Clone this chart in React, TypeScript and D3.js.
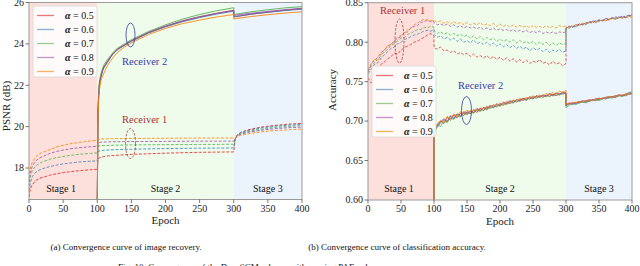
import React from "react";
import * as d3 from "d3";

const ALPHAS = ["0.5", "0.6", "0.7", "0.8", "0.9"];
const COLORS = ["#e41a1c", "#377eb8", "#4daf4a", "#984ea3", "#ff7f00"];
const STAGES = ["Stage 1", "Stage 2", "Stage 3"];
const STAGE_BOUNDS = [0, 100, 300, 400];
const STAGE_FILLS = ["#fde0dc", "#effcec", "#ebf3fd"];
const X_TICKS = [0, 50, 100, 150, 200, 250, 300, 350, 400];
const PSNR_TICKS = [18, 20, 22, 24, 26];
const ACC_TICKS = [0.6, 0.65, 0.7, 0.75, 0.8, 0.85];

// ---------- (a) PSNR ----------
const PSNR_R1_S1_EPOCHS = [0, 2, 5, 10, 15, 20, 30, 40, 50, 60, 70, 80, 90, 100];
const PSNR_R1_S1 = [
  [16.6, 17.0, 17.2, 17.4, 17.5, 17.55, 17.65, 17.72, 17.78, 17.82, 17.86, 17.89, 17.92, 17.94],
  [16.9, 17.3, 17.6, 17.8, 17.9, 17.97, 18.07, 18.14, 18.2, 18.24, 18.28, 18.31, 18.33, 18.35],
  [17.1, 17.6, 17.9, 18.1, 18.22, 18.3, 18.42, 18.5, 18.56, 18.61, 18.65, 18.68, 18.71, 18.73],
  [17.3, 17.8, 18.1, 18.35, 18.48, 18.56, 18.7, 18.8, 18.87, 18.93, 18.97, 19.0, 19.03, 19.05],
  [17.5, 18.0, 18.3, 18.55, 18.68, 18.76, 18.88, 19.02, 19.1, 19.17, 19.22, 19.27, 19.31, 19.34],
];
const PSNR_R1_S2_EPOCHS = [101, 105, 110, 120, 150, 200, 250, 300];
const PSNR_R1_S2 = [
  [18.45, 18.52, 18.56, 18.6, 18.66, 18.72, 18.76, 18.78],
  [18.8, 18.84, 18.86, 18.88, 18.91, 18.94, 18.96, 18.97],
  [19.05, 19.08, 19.09, 19.1, 19.12, 19.13, 19.14, 19.15],
  [19.22, 19.25, 19.26, 19.27, 19.28, 19.29, 19.3, 19.3],
  [19.38, 19.4, 19.41, 19.42, 19.43, 19.44, 19.45, 19.45],
];
const PSNR_R1_S3_EPOCHS = [302, 305, 310, 320, 340, 360, 380, 400];
const PSNR_R1_S3 = [
  [19.4, 19.6, 19.72, 19.84, 19.98, 20.06, 20.12, 20.16],
  [19.38, 19.58, 19.7, 19.8, 19.94, 20.02, 20.07, 20.11],
  [19.4, 19.56, 19.66, 19.76, 19.88, 19.96, 20.01, 20.05],
  [19.42, 19.55, 19.63, 19.72, 19.83, 19.9, 19.95, 19.98],
  [19.45, 19.53, 19.58, 19.65, 19.75, 19.81, 19.85, 19.88],
];
const PSNR_R2_OFFSCALE = 16.0;
const PSNR_R2_S2_EPOCHS = [101, 102, 103, 105, 108, 110, 115, 120, 125, 130, 140, 150, 175, 200, 225, 250, 275, 300];
const PSNR_R2_S2 = [
  [20.6, 21.5, 22.0, 22.4, 22.75, 22.9, 23.15, 23.4, 23.6, 23.75, 23.95, 24.15, 24.55, 24.85, 25.1, 25.3, 25.47, 25.62],
  [20.5, 21.4, 21.95, 22.35, 22.7, 22.85, 23.1, 23.37, 23.57, 23.72, 23.93, 24.12, 24.52, 24.82, 25.07, 25.27, 25.44, 25.58],
  [20.8, 21.7, 22.15, 22.5, 22.85, 23.0, 23.25, 23.45, 23.65, 23.8, 24.0, 24.2, 24.6, 24.92, 25.2, 25.42, 25.6, 25.75],
  [20.6, 21.5, 22.0, 22.4, 22.75, 22.9, 23.15, 23.4, 23.6, 23.75, 23.95, 24.15, 24.55, 24.86, 25.12, 25.32, 25.48, 25.62],
  [20.3, 21.2, 21.7, 22.2, 22.45, 22.6, 22.95, 23.2, 23.42, 23.6, 23.85, 24.05, 24.45, 24.75, 24.98, 25.15, 25.3, 25.42],
];
const PSNR_R2_S3_EPOCHS = [300, 310, 325, 350, 375, 400];
const PSNR_R2_S3 = [
  [25.3, 25.35, 25.43, 25.53, 25.63, 25.7],
  [25.32, 25.36, 25.44, 25.53, 25.61, 25.68],
  [25.42, 25.47, 25.55, 25.65, 25.74, 25.8],
  [25.38, 25.42, 25.48, 25.57, 25.65, 25.72],
  [25.2, 25.25, 25.32, 25.41, 25.49, 25.55],
];

// ---------- (b) Accuracy ----------
const ACC_S1_EPOCHS = d3.range(0, 101, 5);
const ACC_S2_EPOCHS = d3.range(100, 301, 5);
const ACC_S3_EPOCHS = d3.range(300, 401, 5);
const ACC_R1_S1 = [
  [0.755, 0.748, 0.765, 0.768, 0.772, 0.775, 0.779, 0.782, 0.786, 0.785, 0.79, 0.793, 0.795, 0.797, 0.8, 0.801, 0.804, 0.806, 0.809, 0.811, 0.808],
  [0.76, 0.766, 0.772, 0.774, 0.78, 0.784, 0.788, 0.792, 0.794, 0.798, 0.8, 0.803, 0.805, 0.807, 0.809, 0.81, 0.812, 0.814, 0.815, 0.814, 0.816],
  [0.762, 0.77, 0.774, 0.779, 0.783, 0.788, 0.791, 0.796, 0.798, 0.802, 0.805, 0.806, 0.81, 0.811, 0.814, 0.816, 0.816, 0.819, 0.818, 0.82, 0.819],
  [0.763, 0.772, 0.777, 0.781, 0.787, 0.79, 0.795, 0.797, 0.802, 0.805, 0.807, 0.812, 0.813, 0.818, 0.82, 0.821, 0.825, 0.826, 0.828, 0.826, 0.826],
  [0.765, 0.773, 0.779, 0.776, 0.786, 0.79, 0.796, 0.797, 0.801, 0.806, 0.809, 0.812, 0.816, 0.818, 0.822, 0.824, 0.827, 0.829, 0.828, 0.827, 0.828],
];
const ACC_R1_S2 = [
  [0.793, 0.791, 0.794, 0.789, 0.79, 0.787, 0.789, 0.785, 0.787, 0.784, 0.786, 0.782, 0.785, 0.781, 0.783, 0.78, 0.783, 0.779, 0.782, 0.778, 0.781, 0.777, 0.78, 0.776, 0.779, 0.775, 0.778, 0.774, 0.777, 0.773, 0.776, 0.774, 0.778, 0.773, 0.775, 0.771, 0.776, 0.772, 0.774, 0.77, 0.773],
  [0.81, 0.806, 0.808, 0.804, 0.806, 0.803, 0.805, 0.801, 0.804, 0.8, 0.802, 0.799, 0.803, 0.798, 0.8, 0.797, 0.8, 0.796, 0.799, 0.795, 0.798, 0.794, 0.797, 0.793, 0.796, 0.792, 0.795, 0.791, 0.794, 0.789, 0.793, 0.79, 0.792, 0.788, 0.791, 0.787, 0.79, 0.788, 0.791, 0.787, 0.789],
  [0.815, 0.811, 0.813, 0.81, 0.812, 0.809, 0.811, 0.808, 0.81, 0.807, 0.809, 0.805, 0.808, 0.804, 0.807, 0.803, 0.806, 0.803, 0.805, 0.801, 0.804, 0.801, 0.803, 0.8, 0.803, 0.799, 0.802, 0.799, 0.801, 0.798, 0.801, 0.797, 0.8, 0.797, 0.8, 0.796, 0.799, 0.796, 0.799, 0.797, 0.798],
  [0.825, 0.822, 0.823, 0.821, 0.823, 0.82, 0.822, 0.819, 0.821, 0.818, 0.82, 0.818, 0.819, 0.817, 0.819, 0.816, 0.818, 0.816, 0.818, 0.815, 0.817, 0.815, 0.816, 0.814, 0.816, 0.813, 0.815, 0.813, 0.815, 0.812, 0.814, 0.812, 0.814, 0.811, 0.813, 0.811, 0.813, 0.811, 0.813, 0.812, 0.813],
  [0.828, 0.825, 0.827, 0.824, 0.826, 0.823, 0.826, 0.823, 0.825, 0.822, 0.825, 0.822, 0.824, 0.822, 0.825, 0.821, 0.823, 0.821, 0.824, 0.82, 0.823, 0.82, 0.822, 0.819, 0.822, 0.819, 0.821, 0.819, 0.821, 0.818, 0.821, 0.819, 0.82, 0.818, 0.821, 0.818, 0.82, 0.818, 0.821, 0.819, 0.821],
];
const ACC_R1_S3 = [
  [0.818, 0.819, 0.821, 0.82, 0.823, 0.822, 0.825, 0.824, 0.826, 0.825, 0.828, 0.827, 0.829, 0.828, 0.83, 0.831, 0.83, 0.832, 0.831, 0.833, 0.834],
  [0.817, 0.82, 0.819, 0.822, 0.821, 0.824, 0.823, 0.825, 0.827, 0.826, 0.828, 0.827, 0.83, 0.829, 0.831, 0.83, 0.832, 0.831, 0.833, 0.834, 0.835],
  [0.816, 0.818, 0.82, 0.819, 0.822, 0.823, 0.822, 0.825, 0.824, 0.827, 0.826, 0.828, 0.827, 0.829, 0.83, 0.829, 0.831, 0.832, 0.831, 0.833, 0.833],
  [0.818, 0.82, 0.819, 0.821, 0.823, 0.822, 0.824, 0.826, 0.825, 0.827, 0.828, 0.827, 0.83, 0.829, 0.831, 0.832, 0.831, 0.833, 0.832, 0.834, 0.833],
  [0.819, 0.818, 0.821, 0.822, 0.821, 0.824, 0.823, 0.825, 0.826, 0.825, 0.827, 0.828, 0.827, 0.829, 0.83, 0.829, 0.831, 0.83, 0.832, 0.831, 0.832],
];
const ACC_R2_OFFSCALE = 0.55;
const ACC_R2_S2 = [
  [0.684, 0.694, 0.7, 0.697, 0.705, 0.701, 0.708, 0.704, 0.71, 0.707, 0.712, 0.709, 0.714, 0.711, 0.716, 0.713, 0.718, 0.716, 0.72, 0.718, 0.722, 0.72, 0.724, 0.722, 0.726, 0.724, 0.728, 0.726, 0.729, 0.728, 0.731, 0.729, 0.732, 0.73, 0.733, 0.731, 0.734, 0.732, 0.735, 0.734, 0.736],
  [0.688, 0.692, 0.698, 0.702, 0.699, 0.706, 0.703, 0.709, 0.706, 0.711, 0.709, 0.713, 0.71, 0.715, 0.713, 0.717, 0.715, 0.719, 0.717, 0.721, 0.719, 0.723, 0.722, 0.725, 0.723, 0.727, 0.725, 0.729, 0.727, 0.73, 0.728, 0.732, 0.73, 0.733, 0.731, 0.734, 0.732, 0.735, 0.733, 0.736, 0.734],
  [0.682, 0.696, 0.693, 0.701, 0.698, 0.704, 0.702, 0.707, 0.705, 0.71, 0.708, 0.712, 0.71, 0.714, 0.712, 0.716, 0.714, 0.718, 0.717, 0.72, 0.719, 0.722, 0.721, 0.724, 0.723, 0.726, 0.725, 0.728, 0.726, 0.73, 0.728, 0.731, 0.73, 0.732, 0.731, 0.734, 0.732, 0.735, 0.733, 0.736, 0.735],
  [0.687, 0.695, 0.699, 0.703, 0.7, 0.707, 0.704, 0.709, 0.707, 0.712, 0.71, 0.713, 0.711, 0.716, 0.714, 0.717, 0.716, 0.72, 0.718, 0.722, 0.72, 0.724, 0.722, 0.726, 0.724, 0.727, 0.726, 0.729, 0.727, 0.731, 0.729, 0.732, 0.731, 0.733, 0.732, 0.735, 0.733, 0.736, 0.734, 0.737, 0.735],
  [0.69, 0.697, 0.701, 0.698, 0.706, 0.703, 0.709, 0.706, 0.712, 0.709, 0.714, 0.711, 0.715, 0.713, 0.717, 0.715, 0.719, 0.717, 0.721, 0.719, 0.723, 0.721, 0.725, 0.723, 0.727, 0.725, 0.729, 0.727, 0.73, 0.729, 0.732, 0.73, 0.733, 0.731, 0.735, 0.733, 0.736, 0.734, 0.738, 0.736, 0.739],
];
const ACC_R2_S3 = [
  [0.721, 0.723, 0.722, 0.724, 0.723, 0.725, 0.724, 0.726, 0.727, 0.726, 0.728, 0.729, 0.728, 0.73, 0.731, 0.73, 0.732, 0.733, 0.732, 0.734, 0.735],
  [0.719, 0.722, 0.721, 0.723, 0.725, 0.724, 0.726, 0.725, 0.727, 0.728, 0.727, 0.729, 0.73, 0.729, 0.731, 0.732, 0.733, 0.732, 0.734, 0.736, 0.737],
  [0.717, 0.72, 0.722, 0.721, 0.723, 0.724, 0.723, 0.725, 0.726, 0.727, 0.726, 0.728, 0.729, 0.73, 0.729, 0.731, 0.732, 0.731, 0.733, 0.734, 0.735],
  [0.72, 0.722, 0.723, 0.722, 0.724, 0.726, 0.725, 0.727, 0.726, 0.728, 0.729, 0.728, 0.73, 0.731, 0.73, 0.732, 0.733, 0.732, 0.734, 0.735, 0.734],
  [0.722, 0.721, 0.724, 0.723, 0.725, 0.724, 0.726, 0.727, 0.726, 0.728, 0.729, 0.728, 0.73, 0.731, 0.73, 0.732, 0.733, 0.733, 0.734, 0.735, 0.736],
];

const CAPTION_A = "(a) Convergence curve of image recovery.";
const CAPTION_B = "(b) Convergence curve of classification accuracy.";
const FIG_CAPTION = "Fig. 10: Convergence of the DeepSCM scheme with varying PAE values.";

const FONT = "Liberation Serif, Times New Roman, DejaVu Serif, serif";
const FRAME = "#9a9a9a";
const R1_COLOR = "#a83232";
const R2_COLOR = "#3b3ba8";

type Pt = [number, number];
const zipPts = (ep: number[], v: number[]): Pt[] => ep.map((e, i) => [e, v[i]]);

interface Series { r1: Pt[]; r2: Pt[] }

const psnrSeries: Series[] = ALPHAS.map((_, k) => ({
  r1: [
    ...zipPts(PSNR_R1_S1_EPOCHS, PSNR_R1_S1[k]),
    ...zipPts(PSNR_R1_S2_EPOCHS, PSNR_R1_S2[k]),
    ...zipPts(PSNR_R1_S3_EPOCHS, PSNR_R1_S3[k]),
  ],
  r2: [
    [100, PSNR_R2_OFFSCALE] as Pt,
    ...zipPts(PSNR_R2_S2_EPOCHS, PSNR_R2_S2[k]),
    ...zipPts(PSNR_R2_S3_EPOCHS, PSNR_R2_S3[k]),
  ],
}));

const accSeries: Series[] = ALPHAS.map((_, k) => ({
  r1: [
    ...zipPts(ACC_S1_EPOCHS, ACC_R1_S1[k]),
    ...zipPts(ACC_S2_EPOCHS, ACC_R1_S2[k]),
    ...zipPts(ACC_S3_EPOCHS, ACC_R1_S3[k]),
  ],
  r2: [
    [100, ACC_R2_OFFSCALE] as Pt,
    ...zipPts(ACC_S2_EPOCHS, ACC_R2_S2[k]),
    ...zipPts(ACC_S3_EPOCHS, ACC_R2_S3[k]),
  ],
}));

interface Annot { text: string; color: string; tx: number; ty: number; ex: number; ey: number; rx: number; ry: number; dashed: boolean }

interface PanelProps {
  id: string;
  x0: number; x1: number; yTop: number; yBot: number;
  yDomain: [number, number];
  yTicks: number[];
  yFmt: (v: number) => string;
  yLabel: string; yLabelX: number; yLabelY: number;
  series: Series[];
  legendX: number; legendY: number;
  annots: Annot[];
  lw: number;
}

const txt = { fontFamily: FONT };

function Panel(p: PanelProps) {
  const x = d3.scaleLinear().domain([0, 400]).range([p.x0, p.x1]);
  const y = d3.scaleLinear().domain(p.yDomain).range([p.yBot, p.yTop]);
  const line = d3.line<Pt>().x((d) => x(d[0])).y((d) => y(d[1]));
  const clipId = `clip-${p.id}`;
  const legW = 64, legRow = 14;
  return (
    <g>
      <defs>
        <clipPath id={clipId}>
          <rect x={p.x0} y={p.yTop} width={p.x1 - p.x0} height={p.yBot - p.yTop} />
        </clipPath>
      </defs>
      {STAGES.map((s, i) => (
        <rect key={s} x={x(STAGE_BOUNDS[i])} y={p.yTop} width={x(STAGE_BOUNDS[i + 1]) - x(STAGE_BOUNDS[i])}
          height={p.yBot - p.yTop} fill={STAGE_FILLS[i]} />
      ))}
      {STAGES.map((s, i) => (
        <text key={"t" + s} x={x((STAGE_BOUNDS[i] + STAGE_BOUNDS[i + 1]) / 2) + (i === 0 ? -2 : 0)} y={191.5}
          textAnchor="middle" fontSize={10} style={txt} fill="#111">{s}</text>
      ))}
      <g clipPath={`url(#${clipId})`}>
        {p.series.map((s, k) => (
          <g key={k}>
            <path d={line(s.r1) || ""} fill="none" stroke={COLORS[k]} strokeWidth={p.lw} strokeOpacity={0.8} strokeDasharray="3,1.6" />
            <path d={line(s.r2) || ""} fill="none" stroke={COLORS[k]} strokeWidth={p.lw} strokeOpacity={0.85} />
          </g>
        ))}
      </g>
      {p.annots.map((a, i) => (
        <g key={"a" + i}>
          <ellipse cx={a.ex} cy={a.ey} rx={a.rx} ry={a.ry} fill="none" stroke={a.color} strokeWidth={0.8}
            strokeDasharray={a.dashed ? "2.5,1.5" : undefined} />
          <text x={a.tx} y={a.ty} fontSize={10.5} style={txt} fill={a.color}>{a.text}</text>
        </g>
      ))}
      <rect x={p.x0} y={p.yTop} width={p.x1 - p.x0} height={p.yBot - p.yTop} fill="none" stroke={FRAME} strokeWidth={1} />
      {X_TICKS.map((t) => (
        <g key={"x" + t}>
          <line x1={x(t)} x2={x(t)} y1={p.yBot} y2={p.yBot + 3.5} stroke="#555" strokeWidth={0.8} />
          <text x={x(t)} y={p.yBot + 12} textAnchor="middle" fontSize={10} style={txt} fill="#222">{t}</text>
        </g>
      ))}
      <text x={(p.x0 + p.x1) / 2} y={p.yBot + 24.5} textAnchor="middle" fontSize={11} style={txt} fill="#222">Epoch</text>
      {p.yTicks.map((t) => (
        <g key={"y" + t}>
          <line x1={p.x0 - 3.5} x2={p.x0} y1={y(t)} y2={y(t)} stroke="#555" strokeWidth={0.8} />
          <text x={p.x0 - 5} y={y(t) + 3.4} textAnchor="end" fontSize={10} style={txt} fill="#222">{p.yFmt(t)}</text>
        </g>
      ))}
      <text transform={`translate(${p.yLabelX},${p.yLabelY}) rotate(-90)`} textAnchor="middle" fontSize={11}
        style={txt} fill="#222">{p.yLabel}</text>
      <g transform={`translate(${p.legendX},${p.legendY})`}>
        <rect x={0} y={0} width={legW} height={legRow * 5 + 1} rx={2.5} fill="#fff" fillOpacity={0.85} stroke="#d8d8d8" strokeWidth={0.8} />
        {ALPHAS.map((a, k) => (
          <g key={"l" + a} transform={`translate(0,${9.5 + k * legRow})`}>
            <line x1={4} x2={21} y1={0} y2={0} stroke={COLORS[k]} strokeOpacity={0.6} strokeWidth={1.3} />
            <text x={32} y={3.5} fontSize={10} style={txt} fill="#111">
              <tspan fontWeight="bold" fontStyle="italic">α</tspan>
              <tspan> = {a}</tspan>
            </text>
          </g>
        ))}
      </g>
    </g>
  );
}

export default function App() {
  return (
    <svg width={640} height={266} viewBox="0 0 640 266"
      style={{ position: "absolute", left: 0, top: 0, background: "#fff" }}>
      <rect x={0} y={0} width={640} height={266} fill="#fff" />
      <Panel id="a" x0={29} x1={302} yTop={2.5} yBot={199.5} yDomain={[16.48, 26]} yTicks={PSNR_TICKS}
        yFmt={(v) => String(v)} yLabel="PSNR (dB)" yLabelX={10} yLabelY={106} series={psnrSeries}
        legendX={33} legendY={6} lw={1}
        annots={[
          { text: "Receiver 2", color: R2_COLOR, tx: 122, ty: 65, ex: 130.5, ey: 35, rx: 4.5, ry: 12, dashed: false },
          { text: "Receiver 1", color: R1_COLOR, tx: 122, ty: 122.5, ex: 130.5, ey: 143.5, rx: 5, ry: 15, dashed: true },
        ]} />
      <Panel id="b" x0={368} x1={632} yTop={2.7} yBot={200} yDomain={[0.6, 0.85]} yTicks={ACC_TICKS}
        yFmt={(v) => v.toFixed(2)} yLabel="Accuracy" yLabelX={336} yLabelY={90} series={accSeries}
        legendX={372} legendY={66} lw={0.9}
        annots={[
          { text: "Receiver 1", color: R1_COLOR, tx: 380, ty: 14, ex: 399.5, ey: 41, rx: 4.5, ry: 22, dashed: true },
          { text: "Receiver 2", color: R2_COLOR, tx: 458, ty: 89, ex: 466.5, ey: 110.5, rx: 5, ry: 14, dashed: false },
        ]} />
      <text x={126} y={250} textAnchor="middle" fontSize={9} style={txt} fill="#111">{CAPTION_A}</text>
      <text x={397} y={250} textAnchor="middle" fontSize={9} style={txt} fill="#111">{CAPTION_B}</text>
      <text x={118} y={269.5} fontSize={9} style={txt} fill="#111">{FIG_CAPTION}</text>
    </svg>
  );
}
